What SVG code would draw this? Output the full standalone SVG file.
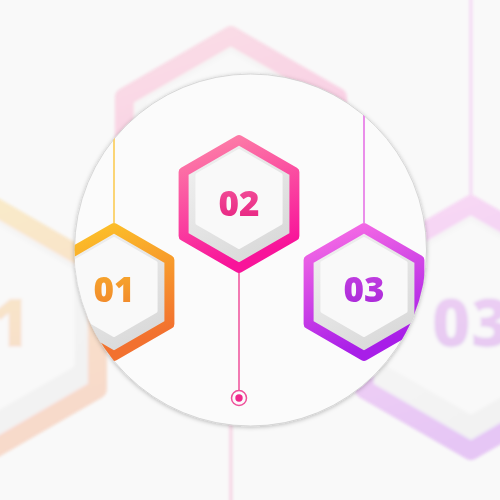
<svg xmlns="http://www.w3.org/2000/svg" xmlns:xlink="http://www.w3.org/1999/xlink" width="500" height="500" viewBox="0 0 500 500">
<style>
.num{font-family:"Open Sans","Liberation Sans",sans-serif;font-weight:800;font-size:35px;text-anchor:middle}
.ring{stroke-width:10;stroke-linejoin:round;fill:url(#gBand)}
.face{fill:#f9f9f9;stroke:#f9f9f9;stroke-width:4;stroke-linejoin:round}
.ln{stroke-width:1.5;fill:none}
</style>
<defs>
<linearGradient id="gO" x1="0" y1="0" x2="0.3" y2="1"><stop offset="0" stop-color="#fdc628"/><stop offset="1" stop-color="#f2712f"/></linearGradient>
<linearGradient id="gP" x1="0" y1="0" x2="0.3" y2="1"><stop offset="0" stop-color="#fd86a8"/><stop offset="1" stop-color="#f8149a"/></linearGradient>
<linearGradient id="gV" x1="0" y1="0" x2="0.3" y2="1"><stop offset="0" stop-color="#fb70e4"/><stop offset="1" stop-color="#a81ee8"/></linearGradient>
<linearGradient id="tO" x1="0" y1="0" x2="0" y2="1"><stop offset="0" stop-color="#f8ac2c"/><stop offset="1" stop-color="#f0842c"/></linearGradient>
<linearGradient id="tP" x1="0" y1="0" x2="0" y2="1"><stop offset="0" stop-color="#f4589c"/><stop offset="1" stop-color="#e61f80"/></linearGradient>
<linearGradient id="tV" x1="0" y1="0" x2="0" y2="1"><stop offset="0" stop-color="#c743e2"/><stop offset="1" stop-color="#a626d8"/></linearGradient>
<linearGradient id="gBand" x1="0" y1="0" x2="0.6" y2="1"><stop offset="0" stop-color="#f3f3f3"/><stop offset="1" stop-color="#d9d9d9"/></linearGradient>
<polygon id="hexRing" points="0,-64 55.4,-32 55.4,32 0,64 -55.4,32 -55.4,-32"/>
<polygon id="hexFace" points="0,-53 41.6,-29 41.6,19 0,43 -41.6,19 -41.6,-29"/>
<clipPath id="circClip"><circle cx="250.5" cy="250" r="176"/></clipPath>
<filter id="blur" x="-20%" y="-20%" width="140%" height="140%"><feGaussianBlur stdDeviation="1.6"/></filter>
<filter id="shadow" x="-10%" y="-10%" width="120%" height="120%"><feDropShadow dx="0" dy="1" stdDeviation="2" flood-color="#000" flood-opacity="0.25"/></filter>
</defs>
<rect width="500" height="500" fill="#f9f9f9"/>
<g id="background" opacity="0.23" filter="url(#blur)">
<use xlink:href="#scene" href="#scene" transform="translate(252,247) scale(1.92) translate(-250,-250)"/>
</g>
<circle cx="250.5" cy="250" r="176" fill="#fbfbfb" stroke="#cfcfcf" stroke-width="0.8" filter="url(#shadow)"/>
<g clip-path="url(#circClip)">
<g id="scene">
<g id="connectors">
<line class="ln" x1="114" y1="-300" x2="114" y2="223" stroke="#fbc84a"/>
<line class="ln" x1="364" y1="-300" x2="364" y2="223" stroke="#e46ae4"/>
<line class="ln" x1="239" y1="272" x2="239" y2="390.5" stroke="#ef4f9a"/>
<circle cx="239" cy="398" r="7.5" fill="#fbfbfb" stroke="#ef4f9a" stroke-width="1.5"/>
<circle cx="239" cy="398" r="3.7" fill="#f0288c"/>
</g>
<g id="node-02" transform="translate(239,204)">
<use href="#hexRing" xlink:href="#hexRing" class="ring" stroke="url(#gP)"/>
<use href="#hexFace" xlink:href="#hexFace" class="face"/>
<text class="num" x="0" y="11.5" fill="url(#tP)">02</text>
</g>
<g id="node-01" transform="translate(114,292)">
<use href="#hexRing" xlink:href="#hexRing" class="ring" stroke="url(#gO)"/>
<use href="#hexFace" xlink:href="#hexFace" class="face"/>
<text class="num" x="0" y="10" fill="url(#tO)">01</text>
</g>
<g id="node-03" transform="translate(364,292)">
<use href="#hexRing" xlink:href="#hexRing" class="ring" stroke="url(#gV)"/>
<use href="#hexFace" xlink:href="#hexFace" class="face"/>
<text class="num" x="0" y="10" fill="url(#tV)">03</text>
</g>
</g>
</g>
</svg>
